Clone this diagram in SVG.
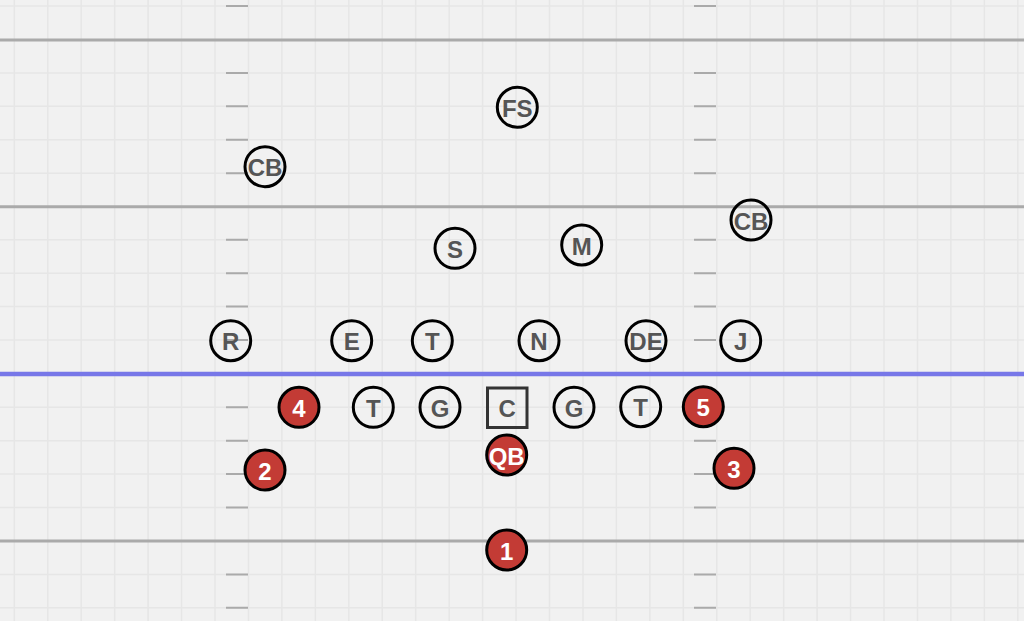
<svg xmlns="http://www.w3.org/2000/svg" width="1024" height="621" viewBox="0 0 1024 621">
<style>
.bg{fill:#f1f1f1}
.grid{stroke:#e6e6e6;stroke-width:1.5;fill:none}
.yard{stroke:#aaaaaa;stroke-width:3;fill:none}
.hash{stroke:#aaaaaa;stroke-width:2;fill:none}
.los{stroke:#7777e8;stroke-width:4.5;fill:none}
.def circle{fill:none;stroke:#000;stroke-width:3}
.off circle{fill:#c33b35;stroke:#000;stroke-width:3}
.ol rect{fill:none;stroke:#333;stroke-width:3}
.ol circle{fill:none;stroke:#000;stroke-width:3}
text{font-family:"Liberation Sans",Arial,sans-serif;font-weight:bold;font-size:24px;text-anchor:middle;dominant-baseline:central}
.def text,.ol text{fill:#555}
.off text{fill:#fff}
</style>
<rect class="bg" x="0" y="0" width="1024" height="621"/>
<g id="field">
<path class="grid" d="M14.3 0V621M47.75 0V621M81.2 0V621M114.65 0V621M148.1 0V621M181.55 0V621M215 0V621M248.45 0V621M281.9 0V621M315.35 0V621M348.8 0V621M382.25 0V621M415.7 0V621M449.15 0V621M482.6 0V621M516.05 0V621M549.5 0V621M582.95 0V621M616.4 0V621M649.85 0V621M683.3 0V621M716.75 0V621M750.2 0V621M783.65 0V621M817.1 0V621M850.55 0V621M884 0V621M917.45 0V621M950.9 0V621M984.35 0V621M1017.8 0V621"/>
<path class="grid" d="M0 6H1024M0 72.9H1024M0 106.3H1024M0 139.7H1024M0 173.2H1024M0 239.7H1024M0 273.2H1024M0 306.6H1024M0 340H1024M0 407.2H1024M0 440.7H1024M0 474.1H1024M0 507.5H1024M0 574.4H1024M0 607.7H1024"/>
<path class="yard" d="M0 40H1024M0 206.8H1024M0 541H1024"/>
<path class="hash" d="M226 6H248M226 72.9H248M226 106.3H248M226 139.7H248M226 173.2H248M226 239.7H248M226 273.2H248M226 306.6H248M226 340H248M226 407.2H248M226 440.7H248M226 474.1H248M226 507.5H248M226 574.4H248M226 607.7H248"/>
<path class="hash" d="M694 6H716M694 72.9H716M694 106.3H716M694 139.7H716M694 173.2H716M694 239.7H716M694 273.2H716M694 306.6H716M694 340H716M694 407.2H716M694 440.7H716M694 474.1H716M694 507.5H716M694 574.4H716M694 607.7H716"/>
<path class="los" d="M0 374H1024"/>
</g>
<g id="connectors"></g>
<g id="defense" class="def">
<g id="FS"><circle cx="517.3" cy="107.3" r="20"/><text x="517.3" y="108.3">FS</text></g>
<g id="CB-left"><circle cx="265" cy="166.7" r="20"/><text x="265" y="167.7">CB</text></g>
<g id="CB-right"><circle cx="751" cy="220" r="20"/><text x="751" y="221">CB</text></g>
<g id="S"><circle cx="455" cy="248.3" r="20"/><text x="455" y="249.3">S</text></g>
<g id="M"><circle cx="581.7" cy="245" r="20"/><text x="581.7" y="246">M</text></g>
<g id="R"><circle cx="230.7" cy="340.7" r="20"/><text x="230.7" y="341.7">R</text></g>
<g id="E"><circle cx="351.7" cy="340.7" r="20"/><text x="351.7" y="341.7">E</text></g>
<g id="T-def"><circle cx="432.3" cy="340.7" r="20"/><text x="432.3" y="341.7">T</text></g>
<g id="N"><circle cx="539" cy="340.7" r="20"/><text x="539" y="341.7">N</text></g>
<g id="DE"><circle cx="646" cy="340.7" r="20"/><text x="646" y="341.7">DE</text></g>
<g id="J"><circle cx="740.7" cy="340.7" r="20"/><text x="740.7" y="341.7">J</text></g>
</g>
<g id="offensive-line" class="ol">
<g id="T-left"><circle cx="373.3" cy="407.3" r="20"/><text x="373.3" y="408.3">T</text></g>
<g id="G-left"><circle cx="440" cy="407.3" r="20"/><text x="440" y="408.3">G</text></g>
<g id="C"><rect x="487.5" y="388" width="39.5" height="39.5"/><text x="507.2" y="408.3">C</text></g>
<g id="G-right"><circle cx="574" cy="407.3" r="20"/><text x="574" y="408.3">G</text></g>
<g id="T-right"><circle cx="640.7" cy="406.7" r="20"/><text x="640.7" y="407.7">T</text></g>
</g>
<g id="offense" class="off">
<g id="P4"><circle cx="299" cy="407.3" r="20"/><text x="299" y="408.3">4</text></g>
<g id="P5"><circle cx="703.3" cy="406.7" r="20"/><text x="703.3" y="407.7">5</text></g>
<g id="P2"><circle cx="265" cy="470" r="20"/><text x="265" y="471">2</text></g>
<g id="QB"><circle cx="506.7" cy="455" r="20"/><text x="506.7" y="456">QB</text></g>
<g id="P3"><circle cx="734" cy="468.3" r="20"/><text x="734" y="469.3">3</text></g>
<g id="P1"><circle cx="506.7" cy="550" r="20"/><text x="506.7" y="551">1</text></g>
</g>
</svg>
